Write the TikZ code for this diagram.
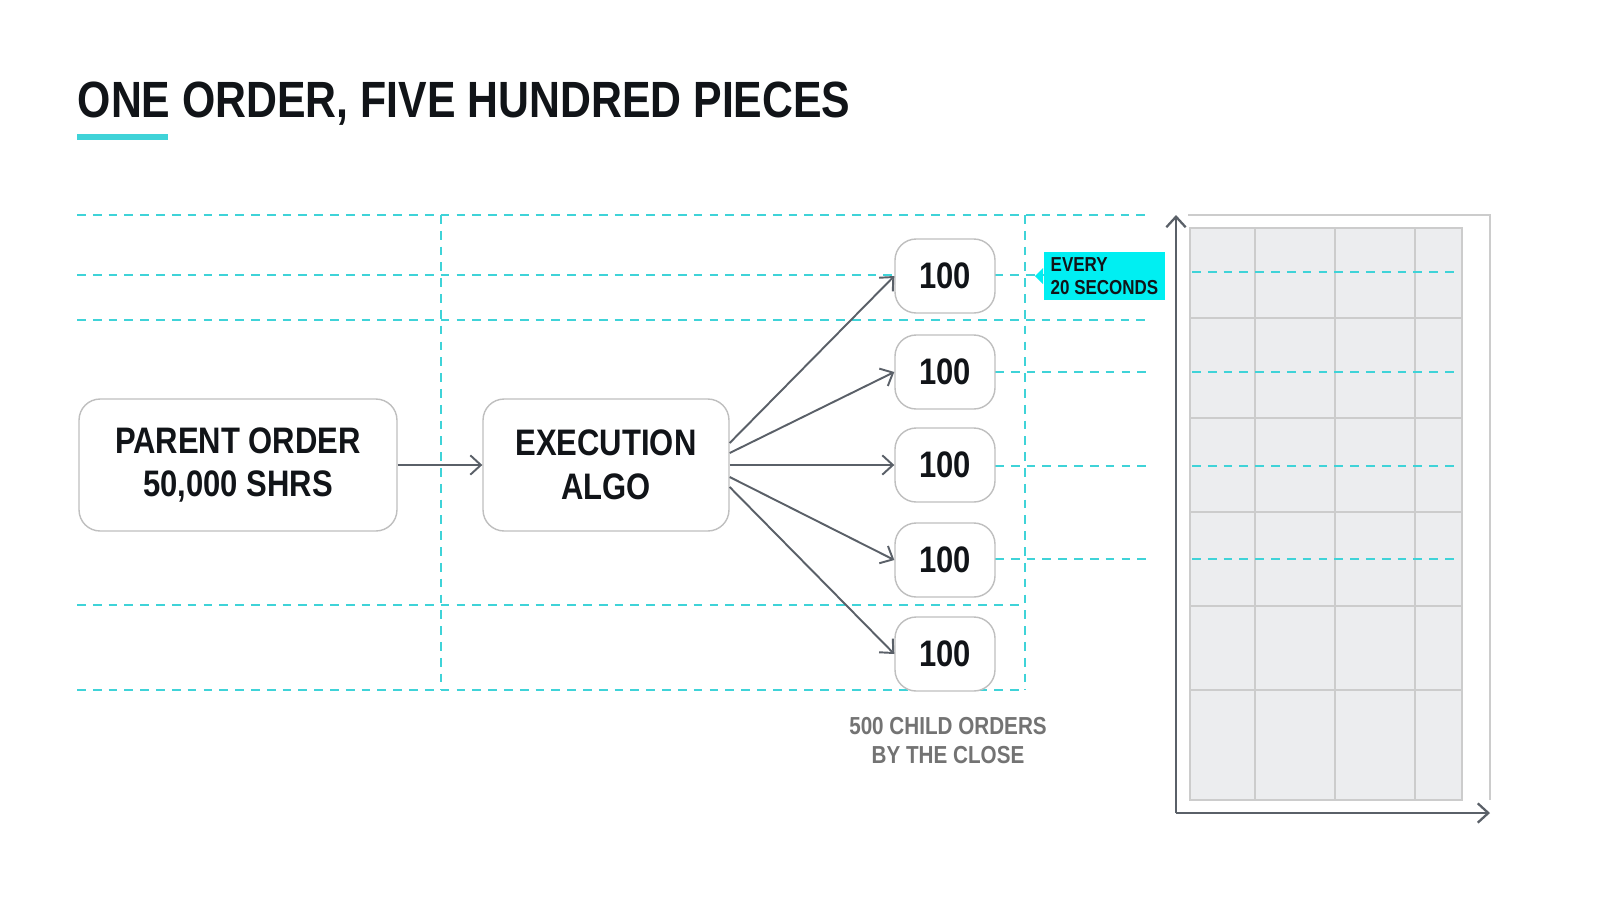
\documentclass[tikz,border=0pt]{standalone}
\usepackage{fontspec}
\setmainfont{Liberation Sans}[FakeStretch=0.84]
\usetikzlibrary{arrows.meta,positioning,calc}
\definecolor{guide}{HTML}{3FD3D8}
\definecolor{tagcyan}{HTML}{00EFF2}
\definecolor{ink}{HTML}{111418}
\definecolor{edge}{HTML}{5A6068}
\definecolor{cell}{HTML}{ECEDEF}
\begin{document}
\begin{tikzpicture}[x=0.02cm, y=-0.02cm, thick,
    box/.style = {draw=black!25, line width=0.8pt, rounded corners=12pt, fill=white, align=center, font=\bfseries\fontsize{21}{25}\selectfont, text=ink},
    piece/.style = {box, minimum width=2cm, minimum height=1.48cm, inner sep=0pt},
    guide/.style = {draw=guide, line width=0.9pt, dash pattern=on 5pt off 4pt},
    flow/.style = {draw=edge, line width=1.1pt, -{Straight Barb[length=6pt,width=11pt]}},
    axis/.style = {draw=edge, line width=1.3pt, -{Straight Barb[length=6pt,width=11pt]}}]
\useasboundingbox (0,0) rectangle (1600,914);
% title
\node[anchor=base west, inner sep=0pt, font=\bfseries\fontsize{29}{34}\selectfont, text=ink] (title) at (77,117) {ONE ORDER, FIVE HUNDRED PIECES};
\fill[fill=guide] (77,134) rectangle (168,140);
% guide lines
\foreach \y in {215,275,320} \draw[guide] (77,\y) -- (1148,\y);
\foreach \y in {605,690} \draw[guide] (77,\y) -- (1025,\y);
\foreach \y in {372,466,559} \draw[guide] (995,\y) -- (1148,\y);
\foreach \x in {441,1025} \draw[guide] (\x,215) -- (\x,690);
% chart
\draw[black!20, line width=0.8pt] (1188,215) -- (1490,215) -- (1490,800);
\fill[cell] (1190,228) rectangle (1462,800);
\foreach \x in {1255,1335,1415} \draw[black!20, line width=0.8pt] (\x,228) -- (\x,800);
\foreach \y in {318,418,512,606,690} \draw[black!20, line width=0.8pt] (1190,\y) -- (1462,\y);
\draw[black!20, line width=0.8pt] (1190,228) rectangle (1462,800);
\foreach \y in {272,372,466,559} \draw[guide] (1192,\y) -- (1460,\y);
\coordinate (origin) at (1176,813);
\coordinate (ytop) at (1176,215);
\coordinate (xend) at (1490,813);
\draw[axis] (origin) -- (ytop);
\draw[axis] (origin) -- (xend);
% boxes
\node[box, minimum width=6.36cm, minimum height=2.64cm] (parent) at (238,465) {PARENT ORDER\\50,000 SHRS};
\node[box, minimum width=4.92cm, minimum height=2.64cm] (algo) at (606,465) {EXECUTION\\ALGO};
\foreach \i/\y in {1/276,2/372,3/465,4/560,5/654}
  \node[piece] (c\i) at (945,\y) {100};
\draw[flow] (parent) -- (algo);
\draw[flow] ($(algo.east)+(0,-22)$) -- (c1.west);
\draw[flow] ($(algo.east)+(0,-12)$) -- (c2.west);
\draw[flow] (algo.east) -- (c3.west);
\draw[flow] ($(algo.east)+(0,12)$) -- (c4.west);
\draw[flow] ($(algo.east)+(0,22)$) -- (c5.west);
% tag
\node[fill=tagcyan, anchor=west, align=left, inner xsep=4pt, inner ysep=3pt, minimum width=2.4cm, minimum height=0.96cm, font=\bfseries\fontsize{11.5}{13.5}\selectfont, text=ink] (tag) at (1043,276) {EVERY\\20 SECONDS};
\fill[tagcyan] (tag.west) ++(0,-8) -- ++(-8,8) -- ++(8,8) -- cycle;
% caption
\node[align=center, font=\bfseries\fontsize{14}{16.5}\selectfont, text=black!55] (caption) at (948,741) {500 CHILD ORDERS\\BY THE CLOSE};
\end{tikzpicture}
\end{document}
